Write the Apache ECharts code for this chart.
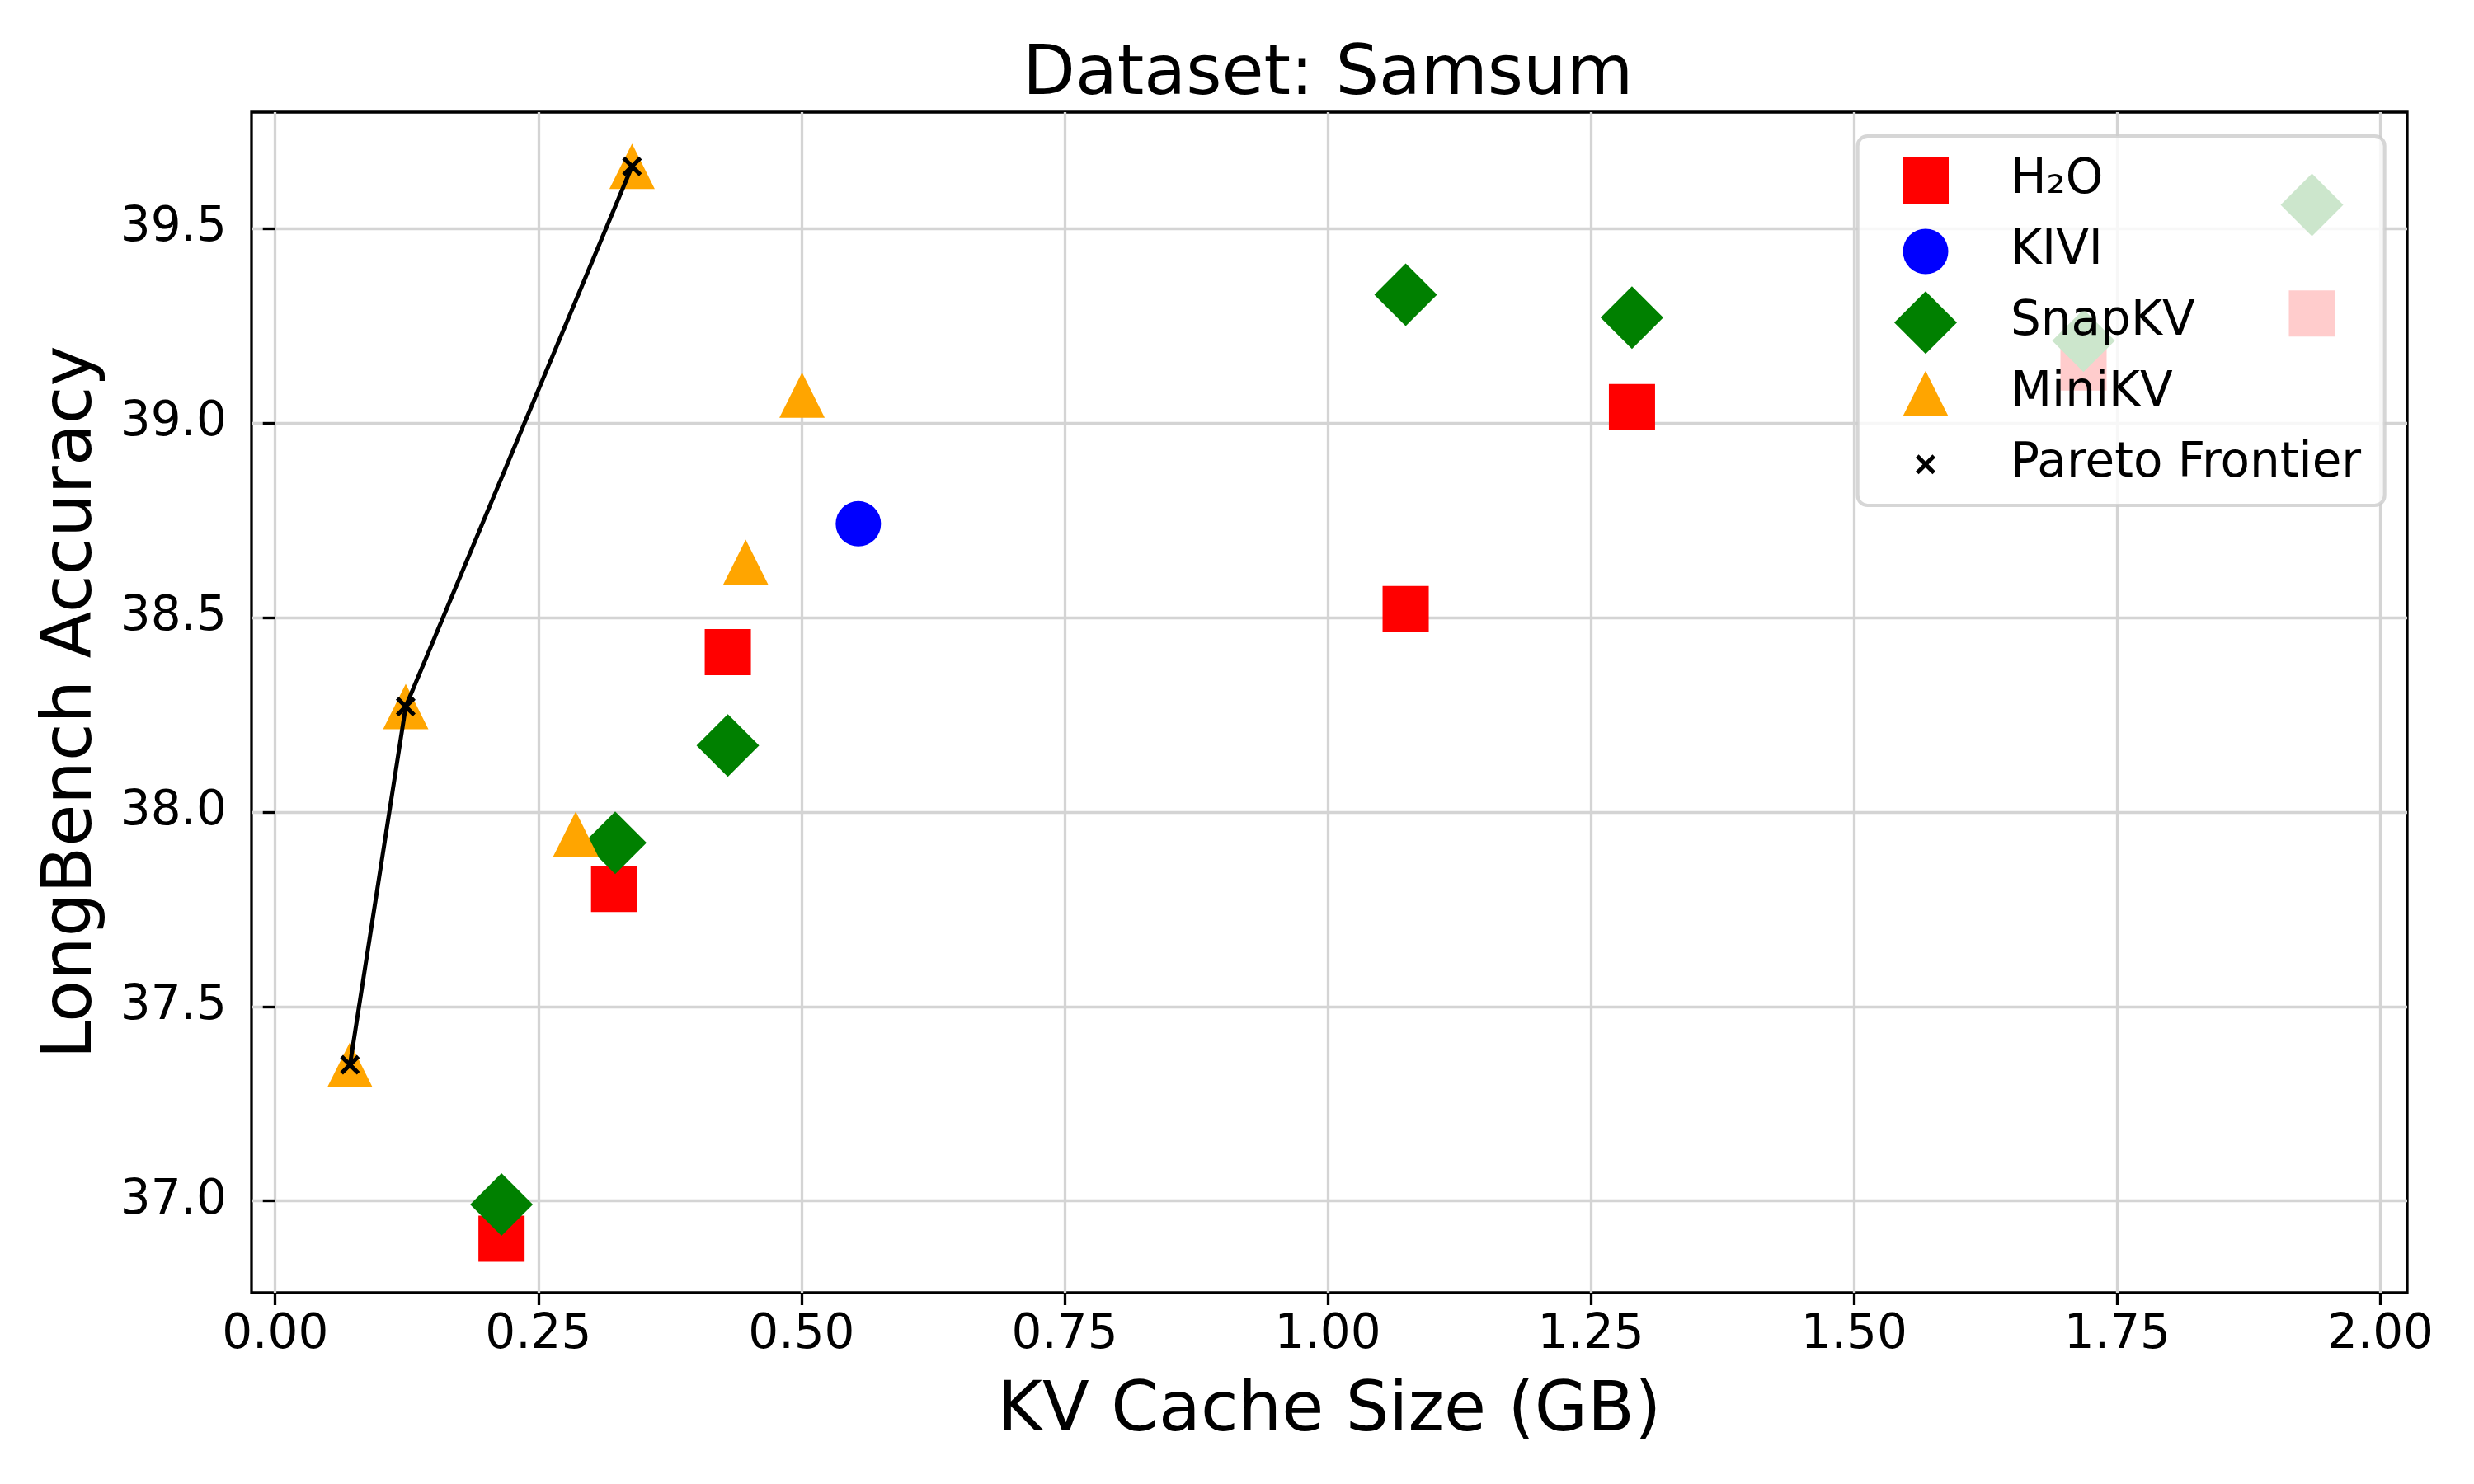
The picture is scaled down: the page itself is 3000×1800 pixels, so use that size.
<!DOCTYPE html>
<html>
<head>
<meta charset="utf-8">
<script src="https://cdn.jsdelivr.net/npm/echarts@6/dist/echarts.min.js"></script>
<style>
html,body{margin:0;padding:0;background:#fff;}
#chart{width:3000px;height:1800px;}
</style>
</head>
<body>
<div id="chart"></div>
<script>
// ---- data ----
const h2oX = [0.215, 0.322, 0.430, 1.074, 1.289, 1.718, 1.935];
const h2oY = [36.903, 37.802, 38.411, 38.522, 39.041, 39.143, 39.282];
const kiviX = [0.554];
const kiviY = [38.741];
const snapX = [0.215, 0.323, 0.430, 1.074, 1.289, 1.718, 1.935];
const snapY = [36.991, 37.921, 38.171, 39.330, 39.271, 39.212, 39.561];
const miniX = [0.071, 0.124, 0.2855, 0.339, 0.447, 0.5005];
const miniY = [37.350, 38.271, 37.943, 39.660, 38.642, 39.072];
const paretoX = [0.071, 0.124, 0.339];
const paretoY = [37.350, 38.271, 39.660];
const xTicks = [0, 0.25, 0.5, 0.75, 1.0, 1.25, 1.5, 1.75, 2.0];
const yTicks = [37.0, 37.5, 38.0, 38.5, 39.0, 39.5];
const seriesNames = ['H\u2082O', 'KIVI', 'SnapKV', 'MiniKV', 'Pareto Frontier'];

function pairs(xs, ys) { return xs.map((x, i) => [x, ys[i]]); }

const FONT = 'DejaVu Sans';
const xPath = 'path://M0,15L15,0L50,35L85,0L100,15L65,50L100,85L85,100L50,65L15,100L0,85L35,50Z';
const icons = [
  'path://M0,0L10,0L10,10L0,10Z',
  'circle',
  'path://M5,0L10,5L5,10L0,5Z',
  'path://M5,0L10,10L0,10Z',
  xPath
];
const iconH = [56, 55, 76, 55, 24];
const rowCenter = [219, 305, 391.3, 477.3, 563.3];
const iconCenterX = 2335;

const legends = seriesNames.map((n, i) => ({
  data: [n],
  icon: icons[i],
  orient: 'vertical',
  left: iconCenterX - iconH[i] / 2,
  top: rowCenter[i] - Math.max(iconH[i], 58) / 2,
  padding: 0,
  itemWidth: 196,
  itemHeight: iconH[i],
  symbolKeepAspect: true,
  selectedMode: false,
  textStyle: { fontFamily: FONT, fontSize: 58, color: '#000' }
}));

const chart = echarts.init(document.getElementById('chart'), null, { renderer: 'canvas' });
chart.setOption({
  animation: false,
  backgroundColor: '#fff',
  title: {
    text: 'Dataset: Samsum',
    left: 1240,
    top: 51,
    padding: 0,
    textStyle: { fontFamily: FONT, fontSize: 83, fontWeight: 'normal', color: '#000' }
  },
  grid: {
    left: 305, right: 81, top: 136, bottom: 232,
    show: true, borderColor: '#000', borderWidth: 3.3, backgroundColor: 'transparent'
  },
  legend: legends,
  graphic: {
    elements: [{
      type: 'rect', z: 3, zlevel: 0,
      shape: { x: 2252.6, y: 165, width: 639, height: 448, r: 12 },
      style: { fill: 'rgba(255,255,255,0.8)', stroke: 'rgba(204,204,204,0.8)', lineWidth: 4.2 }
    }]
  },
  xAxis: {
    type: 'value', min: -0.0225, max: 2.0255,
    name: 'KV Cache Size (GB)', nameLocation: 'middle', nameGap: 104,
    nameTextStyle: { fontFamily: FONT, fontSize: 83, color: '#000' },
    axisLine: { show: false },
    axisTick: { show: true, customValues: xTicks, length: 15, inside: false, lineStyle: { color: '#000', width: 3.3 } },
    axisLabel: { customValues: xTicks, margin: 23, fontFamily: FONT, fontSize: 58, color: '#000',
      formatter: v => v.toFixed(2) },
    splitLine: { show: true, lineStyle: { color: '#d4d4d4', width: 3.3 } }
  },
  yAxis: {
    type: 'value', min: 36.764, max: 39.7995,
    name: 'LongBench Accuracy', nameLocation: 'middle', nameGap: 175,
    nameTextStyle: { fontFamily: FONT, fontSize: 83, color: '#000' },
    axisLine: { show: false },
    axisTick: { show: true, customValues: yTicks, length: 15, inside: false, lineStyle: { color: '#000', width: 3.3 } },
    axisLabel: { customValues: yTicks, margin: 30, fontFamily: FONT, fontSize: 58, color: '#000',
      formatter: v => v.toFixed(1) },
    splitLine: { show: true, lineStyle: { color: '#d4d4d4', width: 3.3 } }
  },
  series: [
    { name: seriesNames[0], type: 'scatter', symbol: 'rect', symbolSize: 56,
      itemStyle: { color: '#ff0000', opacity: 1 }, data: pairs(h2oX, h2oY) },
    { name: seriesNames[1], type: 'scatter', symbol: 'circle', symbolSize: 55,
      itemStyle: { color: '#0000ff', opacity: 1 }, data: pairs(kiviX, kiviY) },
    { name: seriesNames[2], type: 'scatter', symbol: 'diamond', symbolSize: 76,
      itemStyle: { color: '#008000', opacity: 1 }, data: pairs(snapX, snapY) },
    { name: seriesNames[3], type: 'scatter', symbol: 'triangle', symbolSize: 55,
      itemStyle: { color: '#ffa500', opacity: 1 }, data: pairs(miniX, miniY) },
    { name: seriesNames[4], type: 'line', symbol: xPath, symbolSize: 24, showSymbol: true,
      lineStyle: { color: '#000', width: 5 }, itemStyle: { color: '#000', opacity: 1 },
      data: pairs(paretoX, paretoY) }
  ]
});
</script>
</body>
</html>
